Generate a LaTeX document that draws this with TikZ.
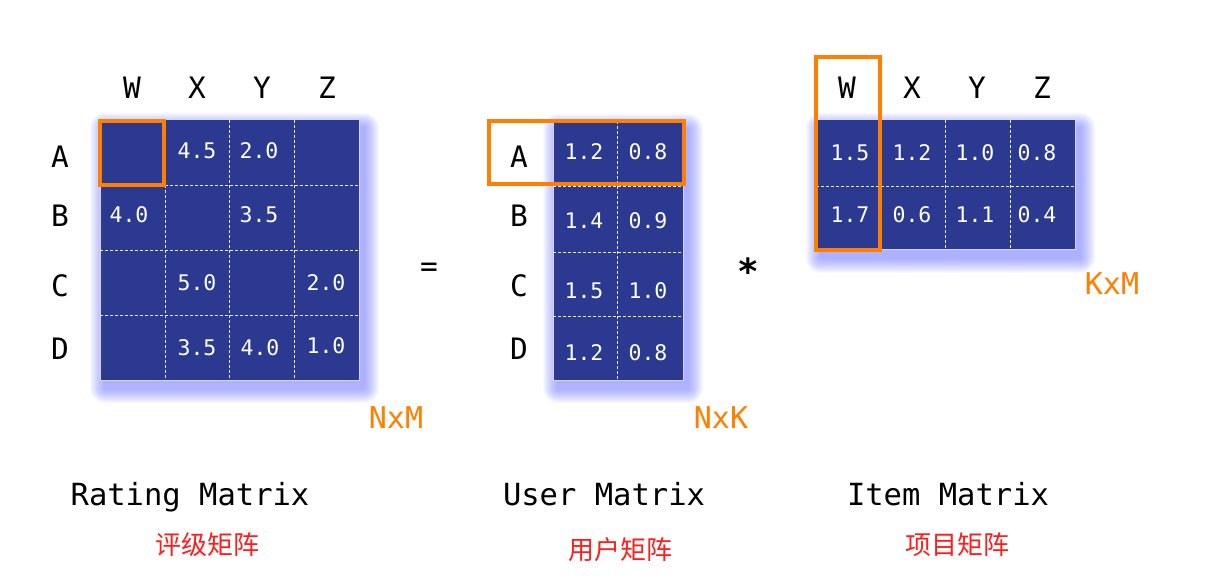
\documentclass[tikz,border=0pt]{standalone}
\usepackage{fontspec}
\setmonofont{DejaVu Sans Mono}
\newfontfamily\cjk{Noto Sans CJK SC}
\definecolor{mblue}{RGB}{43,57,144}
\definecolor{morange}{RGB}{255,127,0}
\definecolor{mred}{RGB}{255,30,30}
\definecolor{mglow}{RGB}{95,105,255}
\newcommand\myglow[4]{%
  \foreach \r in {1,...,15}{%
    \fill[mglow, opacity=0.045, rounded corners=\r pt]
      ({#1+5-\r},{#2+8-\r}) rectangle ({#3+5+\r},{#4+8+\r});
  }%
}
\begin{document}
\begin{tikzpicture}[x=1pt,y=-1pt,
 hdr/.style={font=\ttfamily\fontsize{29.5}{34}\selectfont, text=black, inner sep=0pt},
 val/.style={font=\ttfamily\fontsize{21.5}{25}\selectfont, text=white, inner sep=0pt},
 dimlab/.style={font=\ttfamily\fontsize{30}{34}\selectfont, text=morange, inner sep=0pt},
 ttl/.style={font=\ttfamily\fontsize{30.5}{35}\selectfont, text=black, inner sep=0pt, anchor=base},
 cn/.style={font=\cjk\fontsize{26}{30}\selectfont, text=mred, inner sep=0pt},
 gridline/.style={white!90!mblue, line width=0.8pt, dash pattern=on 3pt off 2pt},
 mat/.style={fill=mblue, draw=white!80!mblue, line width=1pt, inner sep=0pt, outer sep=0pt, anchor=north west},
 hl/.style={draw=morange, line width=4pt, inner sep=0pt, outer sep=0pt, anchor=north west}
]
\useasboundingbox[fill=white] (0,0) rectangle (1215,577);

% ---------- glows ----------
\myglow{100}{120}{359}{380}
\myglow{553}{121}{683}{380}
\myglow{816}{120}{1075}{250}

% ---------- Rating matrix ----------
\node[mat, minimum width=259pt, minimum height=260pt] (R) at (100,120) {};
\foreach \x in {165,229,294} \draw[gridline] (\x,120) -- (\x,380);
\foreach \y in {185,250,315} \draw[gridline] (100,\y) -- (359,\y);
\node[hl, minimum width=64pt, minimum height=64pt] (Rhl) at (100,121) {};
\foreach \t/\x in {W/132,X/197,Y/262,Z/327} \node[hdr] (Rc\t) at (\x,88) {\t};
\foreach \t/\y in {A/157,B/216,C/286,D/349} \node[hdr] (Rr\t) at (60,\y) {\t};
\node[val] (r1) at (197,151) {4.5};
\node[val] (r2) at (259,151) {2.0};
\node[val] (r3) at (129,215) {4.0};
\node[val] (r4) at (259,215) {3.5};
\node[val] (r5) at (197,283) {5.0};
\node[val] (r6) at (326,283) {2.0};
\node[val] (r7) at (197,348) {3.5};
\node[val] (r8) at (260,348) {4.0};
\node[val] (r9) at (326,346) {1.0};
\node[dimlab] (NxM) at (396,418) {NxM};

\node[hdr] (eq) at (429,270) {=};

% ---------- User matrix ----------
\node[mat, minimum width=130pt, minimum height=259pt] (U) at (553,121) {};
\draw[gridline] (617,121) -- (617,380);
\foreach \y in {186,252,316} \draw[gridline] (553,\y) -- (683,\y);
\node[hl, minimum width=195pt, minimum height=63pt] (Uhl) at (489,121) {};
\foreach \t/\y in {A/157,B/216,C/286,D/349} \node[hdr] (Ur\t) at (519,\y) {\t};
\node[val] (u1) at (584,152) {1.2};
\node[val] (u2) at (648,152) {0.8};
\node[val] (u3) at (584,221) {1.4};
\node[val] (u4) at (648,221) {0.9};
\node[val] (u5) at (584,291) {1.5};
\node[val] (u6) at (648,291) {1.0};
\node[val] (u7) at (584,353) {1.2};
\node[val] (u8) at (648,353) {0.8};
\node[dimlab] (NxK) at (721,418) {NxK};

\node[font=\ttfamily\bfseries\fontsize{36}{40}\selectfont, inner sep=0pt] (star) at (748,271) {*};

% ---------- Item matrix ----------
\node[mat, minimum width=259pt, minimum height=130pt] (I) at (816,120) {};
\foreach \x in {880,945,1010} \draw[gridline] (\x,120) -- (\x,250);
\draw[gridline] (816,186) -- (1075,186);
\node[hl, minimum width=64pt, minimum height=193pt] (Ihl) at (816,57) {};
\foreach \t/\x in {W/847,X/912,Y/977,Z/1042} \node[hdr] (Ic\t) at (\x,88) {\t};
\node[val] (i1) at (850,153) {1.5};
\node[val] (i2) at (912,153) {1.2};
\node[val] (i3) at (975,153) {1.0};
\node[val] (i4) at (1037,153) {0.8};
\node[val] (i5) at (850,215) {1.7};
\node[val] (i6) at (912,215) {0.6};
\node[val] (i7) at (975,215) {1.1};
\node[val] (i8) at (1037,215) {0.4};
\node[dimlab] (KxM) at (1112,284) {KxM};

% ---------- Titles ----------
\node[ttl] (tR) at (190,505) {Rating Matrix};
\node[ttl] (tU) at (604,505) {User Matrix};
\node[ttl] (tI) at (948,505) {Item Matrix};
\node[cn] (cR) at (207,545) {评级矩阵};
\node[cn] (cU) at (620,550) {用户矩阵};
\node[cn] (cI) at (957,545) {项目矩阵};
\end{tikzpicture}
\end{document}
